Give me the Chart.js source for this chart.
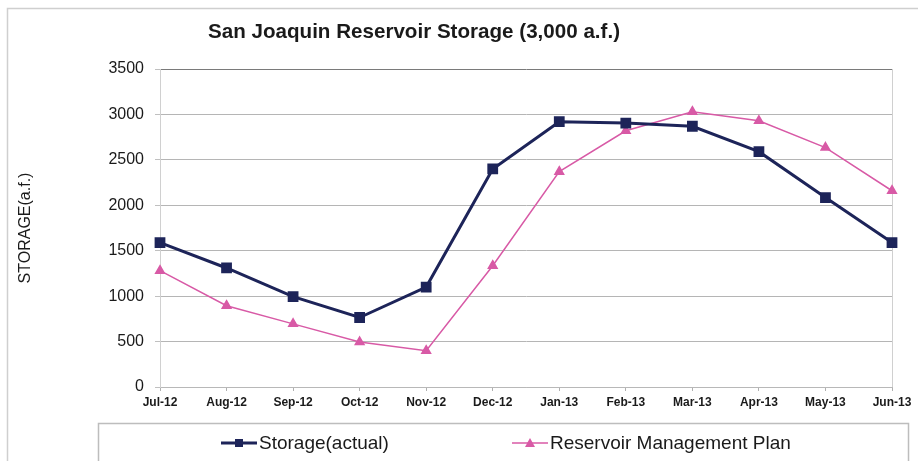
<!DOCTYPE html>
<html>
<head>
<meta charset="utf-8">
<script src="https://cdn.jsdelivr.net/npm/chart.js@4.4.1/dist/chart.umd.min.js"></script>
<style>
  html, body { margin: 0; padding: 0; background: #fff; }
  #wrap { width: 918px; height: 461px; position: relative; }
</style>
</head>
<body>
<div id="wrap"><canvas id="storageChart" width="918" height="461"></canvas></div>
<script>
// values (acre-feet)
var months = ["Jul-12", "Aug-12", "Sep-12", "Oct-12", "Nov-12", "Dec-12",
              "Jan-13", "Feb-13", "Mar-13", "Apr-13", "May-13", "Jun-13"];
var storageActual = [1590, 1310, 995, 765, 1100, 2400, 2920, 2905, 2870, 2590, 2085, 1590];
var managementPlan = [1280, 895, 695, 495, 400, 1335, 2370, 2820, 3030, 2930, 2635, 2160];
var yTicks = [0, 500, 1000, 1500, 2000, 2500, 3000, 3500];

var chartTitle = "San Joaquin Reservoir Storage (3,000 a.f.)";
var FONT = "'Liberation Sans', Arial, sans-serif";

var NAVY = "#1d2459";
var PINK = "#d85aa6";

// frame, title and boxed legend like the original spreadsheet chart
var decorPlugin = {
    id: "decor",
    beforeDraw: function(chart) {
        var ctx = chart.ctx;
        ctx.save();
        ctx.fillStyle = "#fff";
        ctx.fillRect(0, 0, chart.width, chart.height);
        ctx.strokeStyle = "#cfcfcf";
        ctx.lineWidth = 1.5;
        ctx.strokeRect(7.5, 8.5, chart.width + 10, chart.height + 10);
        ctx.restore();
    },
    afterDraw: function(chart) {
        var ctx = chart.ctx;
        ctx.save();
        ctx.fillStyle = "#1a1a1a";
        ctx.font = "bold 20.6px " + FONT;
        ctx.textAlign = "center";
        ctx.textBaseline = "middle";
        ctx.fillText(chartTitle, 414, 32);

        // legend box
        ctx.strokeStyle = "#bdbdbd";
        ctx.lineWidth = 1.5;
        ctx.strokeRect(98.5, 423.5, 810, 50);

        var itemX = [221, 512];
        var y = 443;
        chart.data.datasets.forEach(function(ds, i) {
            var x0 = itemX[i];
            ctx.strokeStyle = ds.borderColor;
            ctx.lineWidth = ds.borderWidth;
            ctx.beginPath();
            ctx.moveTo(x0, y);
            ctx.lineTo(x0 + 36, y);
            ctx.stroke();
            ctx.fillStyle = ds.pointBackgroundColor;
            var cx = x0 + 18;
            if (ds.pointStyle === "rect") {
                ctx.fillRect(cx - 4, y - 4, 8, 8);
            } else {
                ctx.beginPath();
                ctx.moveTo(cx, y - 5);
                ctx.lineTo(cx + 5, y + 4);
                ctx.lineTo(cx - 5, y + 4);
                ctx.closePath();
                ctx.fill();
            }
            ctx.fillStyle = "#1a1a1a";
            ctx.font = "19px " + FONT;
            ctx.textAlign = "left";
            ctx.fillText(ds.label, x0 + 38, y + 1);
        });
        ctx.restore();
    }
};

new Chart(document.getElementById("storageChart"), {
    type: "line",
    data: {
        labels: months,
        datasets: [{
            label: "Storage(actual)",
            data: storageActual,
            borderColor: NAVY,
            backgroundColor: NAVY,
            pointBackgroundColor: NAVY,
            pointBorderColor: NAVY,
            borderWidth: 3,
            pointStyle: "rect",
            pointRadius: 5.5,
            tension: 0
        }, {
            label: "Reservoir Management Plan",
            data: managementPlan,
            borderColor: PINK,
            backgroundColor: PINK,
            pointBackgroundColor: PINK,
            pointBorderColor: PINK,
            borderWidth: 1.5,
            pointStyle: "triangle",
            pointRadius: 5,
            tension: 0
        }]
    },
    options: {
        responsive: false,
        animation: false,
        layout: { padding: { left: 14, top: 69, right: 26, bottom: 0 } },
        plugins: {
            legend: { display: false },
            title: { display: false },
            tooltip: { enabled: false }
        },
        scales: {
            x: {
                offset: false,
                afterFit: function(scale) { scale.height = 74; },
                grid: {
                    color: function(c) { return c.index === months.length - 1 ? "#d0d0d0" : "rgba(0,0,0,0)"; },
                    tickColor: "#b0b0b0",
                    tickLength: 4,
                    drawTicks: true
                },
                border: { display: true, color: "#b8b8b8", width: 1 },
                ticks: {
                    color: "#1a1a1a",
                    font: { family: FONT, size: 12, weight: "bold" },
                    padding: 4,
                    maxRotation: 0,
                    autoSkip: false
                }
            },
            y: {
                min: 0,
                max: 3500,
                afterBuildTicks: function(scale) {
                    scale.ticks = yTicks.map(function(v) { return { value: v }; });
                },
                afterFit: function(scale) { scale.width = 146; },
                grid: {
                    color: function(c) { return c.tick && c.tick.value === 3500 ? "#7a7a7a" : "#b5b5b5"; },
                    tickColor: "#c0c0c0",
                    tickLength: 5
                },
                border: { display: true, color: "#d0d0d0", width: 1 },
                ticks: {
                    color: "#1a1a1a",
                    font: { family: FONT, size: 16 },
                    padding: 11,
                    callback: function(v) { return String(v); }
                },
                title: {
                    display: true,
                    text: "STORAGE(a.f.)",
                    color: "#1a1a1a",
                    font: { family: FONT, size: 16 },
                    padding: { top: 2, bottom: 0 }
                }
            }
        }
    },
    plugins: [decorPlugin]
});
</script>
</body>
</html>
